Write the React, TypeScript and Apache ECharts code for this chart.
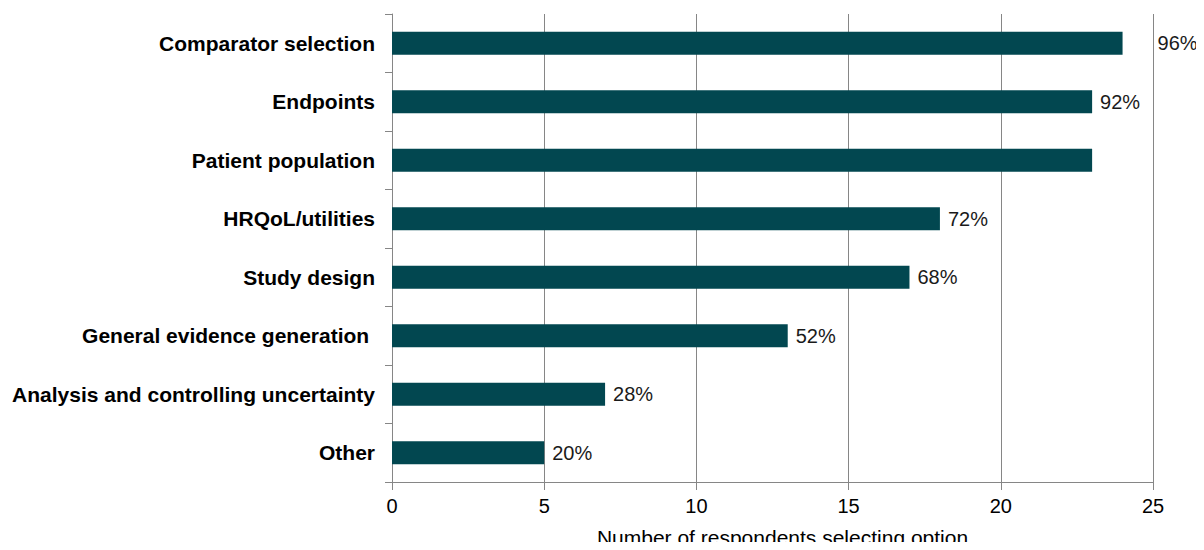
import React, { useEffect, useRef } from "react";
import * as echarts from "echarts";

const categories = [
  "Comparator selection",
  "Endpoints",
  "Patient population",
  "HRQoL/utilities",
  "Study design",
  "General evidence generation ",
  "Analysis and controlling uncertainty",
  "Other",
];
const counts = [24, 23, 23, 18, 17, 13, 7, 5];
const percentLabels = ["96%", "92%", "", "72%", "68%", "52%", "28%", "20%"];
const xTicks = [0, 5, 10, 15, 20, 25];

export default function App() {
  const ref = useRef<HTMLDivElement>(null);
  useEffect(() => {
    if (!ref.current) return;
    const chart = echarts.init(ref.current, undefined, { renderer: "svg" });
    const cats = [...categories].reverse();
    const vals = [...counts].reverse();
    const labs = [...percentLabels].reverse();
    chart.setOption({
      animation: false,
      grid: {
        left: 392,
        right: 51,
        top: 14,
        bottom: 68,
        containLabel: false,
        outerBoundsMode: "none",
      },
      xAxis: {
        type: "value",
        min: xTicks[0],
        max: xTicks[xTicks.length - 1],
        interval: 5,
        name: "Number of respondents selecting option",
        nameLocation: "middle",
        nameGap: 45,
        nameTextStyle: {
          fontFamily: "Liberation Sans, Arial, sans-serif",
          fontSize: 21,
          color: "#000",
          padding: [0, 0, 0, 20],
        },
        axisLine: { show: true, lineStyle: { color: "#868686", width: 1 } },
        axisTick: { show: true, length: 8, lineStyle: { color: "#868686" } },
        axisLabel: {
          fontFamily: "Liberation Sans, Arial, sans-serif",
          fontSize: 20,
          color: "#000",
          margin: 14,
        },
        splitLine: { show: true, lineStyle: { color: "#868686", width: 1 } },
      },
      yAxis: {
        type: "category",
        data: cats,
        axisLine: { show: true, lineStyle: { color: "#868686", width: 1 } },
        axisTick: { show: true, length: 7, lineStyle: { color: "#868686" } },
        axisLabel: {
          fontFamily: "Liberation Sans, Arial, sans-serif",
          fontSize: 21,
          fontWeight: "bold",
          color: "#000",
          margin: 17,
        },
      },
      series: [
        {
          type: "bar",
          data: vals.map((v, i) => ({
            value: v,
            label: {
              show: labs[i] !== "",
              formatter: labs[i],
              distance: v === 24 ? 35 : 8,
            },
          })),
          barWidth: 23,
          itemStyle: { color: "#024750" },
          label: {
            show: true,
            position: "right",
            fontFamily: "Liberation Sans, Arial, sans-serif",
            fontSize: 20,
            color: "#1a1a1a",
          },
        },
      ],
    });
    return () => chart.dispose();
  }, []);
  return <div ref={ref} style={{ width: 1204, height: 550, margin: -8 }} />;
}
